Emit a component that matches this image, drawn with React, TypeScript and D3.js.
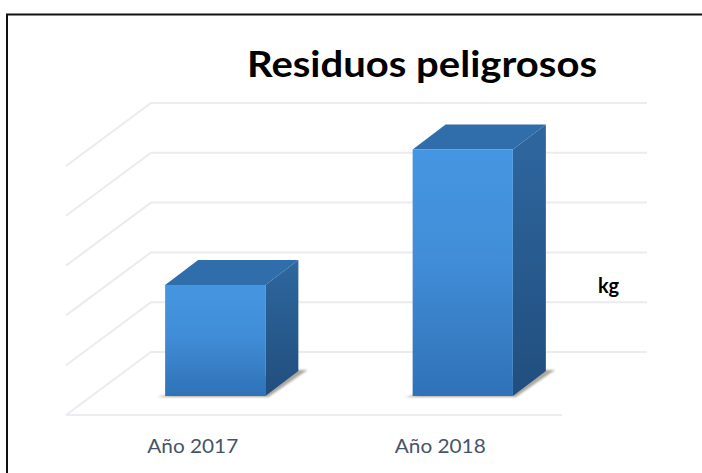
import React from 'react';
import * as d3 from 'd3';

const categories = ['Año 2017', 'Año 2018'];
const values = [2.23, 4.95];
const gridTicks = [0, 1, 2, 3, 4, 5];
const chartTitle = 'Residuos peligrosos';
const unitLabel = 'kg';

const width = 702;
const height = 473;

// floor at the back wall and the oblique depth of the grid
const backX0 = 151;
const backX1 = 647;
const backFloor = 352;
const gridDepth = { x: -85, y: 63 };
const barDepth = { x: 33, y: -25 };
const barBase = 396;

const y = d3.scaleLinear().domain([0, 5]).range([0, -249]);
const x = d3.scaleBand<string>().domain(categories).range([91.5, 586.5]).paddingInner(0.595).paddingOuter(0.2975);

const poly = d3.line();

const App = () => {
  return (
    <svg width={width} height={height} style={{ position: 'absolute', left: 0, top: 0, background: '#fff' }}>
      <defs>
        <linearGradient id="front" x1="0" y1="0" x2="0" y2="1">
          <stop offset="0" stopColor="#4596e2" />
          <stop offset="0.45" stopColor="#418dd7" />
          <stop offset="1" stopColor="#2f72b7" />
        </linearGradient>
        <linearGradient id="side" x1="0" y1="0" x2="0" y2="1">
          <stop offset="0" stopColor="#2e679f" />
          <stop offset="1" stopColor="#214e7e" />
        </linearGradient>
        <filter id="soft" x="-20%" y="-50%" width="140%" height="200%">
          <feGaussianBlur stdDeviation="1" />
        </filter>
      </defs>

      {/* frame runs off the right and bottom of the picture */}
      <rect x={7} y={14.5} width={710} height={470} fill="#fff" stroke="#111" strokeWidth={2} />

      {/* grid: back wall line plus the oblique run to the front */}
      <g fill="none" stroke="#ebebf0" strokeWidth={2}>
        {gridTicks.map(t => {
          const yy = backFloor + y(t);
          return (
            <path
              key={t}
              d={poly([
                [backX0 + gridDepth.x, yy + gridDepth.y],
                [backX0, yy],
                [backX1, yy],
              ]) as string}
            />
          );
        })}
        <path
          d={poly([
            [backX0 + gridDepth.x, backFloor + gridDepth.y],
            [backX1 + gridDepth.x, backFloor + gridDepth.y],
          ]) as string}
        />
      </g>

      {categories.map((c, i) => {
        const x0 = x(c) as number;
        const x1 = x0 + x.bandwidth();
        const top = barBase + y(values[i]);
        const dx = barDepth.x;
        const dy = barDepth.y;
        return (
          <g key={c}>
            <path
              d={poly([
                [x0 - 8, barBase + 1],
                [x1 + 3, barBase + 1],
                [x1 + dx + 9, barBase + dy - 1],
                [x1 + dx - 2, barBase + dy - 1],
              ]) as string}
              fill="#8f8a80"
              opacity={0.75}
              filter="url(#soft)"
            />
            <path
              d={poly([[x0, top], [x1, top], [x1 + dx, top + dy], [x0 + dx, top + dy]]) as string}
              fill="#2f6dab"
            />
            <path
              d={poly([[x1, top], [x1 + dx, top + dy], [x1 + dx, barBase + dy], [x1, barBase]]) as string}
              fill="url(#side)"
            />
            <rect x={x0} y={top} width={x1 - x0} height={barBase - top} fill="url(#front)" />
            <text
              x={(x0 + x1) / 2 - 22.5}
              y={453}
              textAnchor="middle"
              fontFamily="Lato, sans-serif"
              fontSize={19.5}
              textLength={91}
              lengthAdjust="spacingAndGlyphs"
              fill="#44546a"
            >
              {c}
            </text>
          </g>
        );
      })}

      <text
        x={422}
        y={77}
        textAnchor="middle"
        fontFamily="Lato, sans-serif"
        fontWeight={700}
        fontSize={36}
        textLength={350}
        lengthAdjust="spacingAndGlyphs"
        fill="#000"
      >
        {chartTitle}
      </text>
      <text x={608.5} y={293} textAnchor="middle" fontFamily="Lato, sans-serif" fontWeight={700} fontSize={20} fill="#000">
        {unitLabel}
      </text>
    </svg>
  );
};

export default App;
